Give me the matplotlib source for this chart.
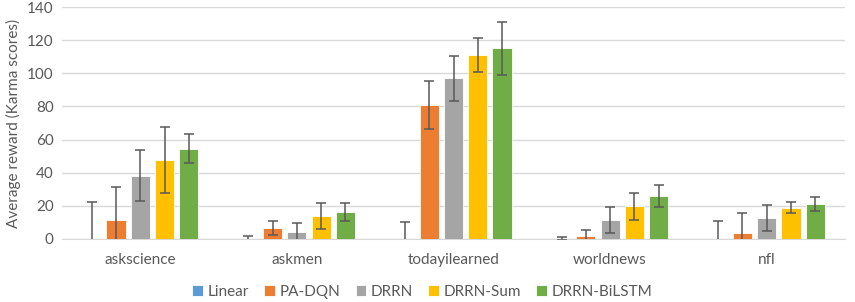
import numpy as np
import matplotlib
matplotlib.use('Agg')
import matplotlib.pyplot as plt

plt.rcParams['font.family'] = ['Lato', 'DejaVu Sans']

categories = ['askscience', 'askmen', 'todayilearned', 'worldnews', 'nfl']
methods = ['Linear', 'PA-DQN', 'DRRN', 'DRRN-Sum', 'DRRN-BiLSTM']
colors = ['#5B9BD5', '#ED7D31', '#A5A5A5', '#FFC000', '#70AD47']

# mean karma score per method (rows) and subreddit (columns)
means = [
    [0.2, 0.1, 0.1, 0.1, 0.1],
    [11.6, 6.5, 81.0, 1.8, 3.8],
    [38.3, 4.0, 97.0, 11.5, 12.7],
    [47.8, 14.0, 111.0, 19.7, 18.9],
    [54.5, 16.3, 115.0, 26.2, 21.3],
]
errs = [
    [22.2, 1.8, 10.4, 1.0, 10.8],
    [20.0, 4.2, 14.5, 3.6, 12.0],
    [15.5, 5.5, 13.5, 7.7, 7.7],
    [20.0, 7.7, 10.0, 8.2, 3.4],
    [8.7, 5.2, 16.0, 6.6, 4.2],
]

fig = plt.figure(figsize=(8.55, 3.02), dpi=100)
ax = fig.add_axes((62/855, 1-239/302, (845-62)/855, 232/302))

x = np.arange(len(categories))
step = 0.155
width = 0.122
for i in range(len(methods)):
    ax.bar(x + (i-2)*step, means[i], width, yerr=errs[i], color=colors[i],
           edgecolor='white', linewidth=0.6, label=methods[i], zorder=3,
           error_kw=dict(ecolor='#595959', elinewidth=1.1, capsize=3.5, capthick=1.1, zorder=4))

ax.set_xlim(-0.5, 4.5)
ax.set_ylim(0, 140)
ax.set_yticks(range(0, 141, 20))
ax.set_xticks(x)
ax.set_xticklabels(categories)
ax.grid(axis='y', color='#D9D9D9', linewidth=1, zorder=0)
for s in ['top', 'right', 'left']:
    ax.spines[s].set_visible(False)
ax.spines['bottom'].set_color('#D9D9D9')
ax.tick_params(axis='both', length=0, labelsize=11, colors='#595959')
ax.tick_params(axis='x', pad=10)
ax.tick_params(axis='y', pad=6)
ax.set_ylabel('Average reward (Karma scores)', fontsize=11, color='#595959', labelpad=4)

fig.legend(*ax.get_legend_handles_labels(), loc='center', bbox_to_anchor=(0.494, 1-292/302),
           ncol=5, frameon=False, fontsize=11, handlelength=0.7, handleheight=0.7,
           handletextpad=0.3, columnspacing=1.0, labelcolor='#595959')

fig.savefig('out.png', dpi=100)
